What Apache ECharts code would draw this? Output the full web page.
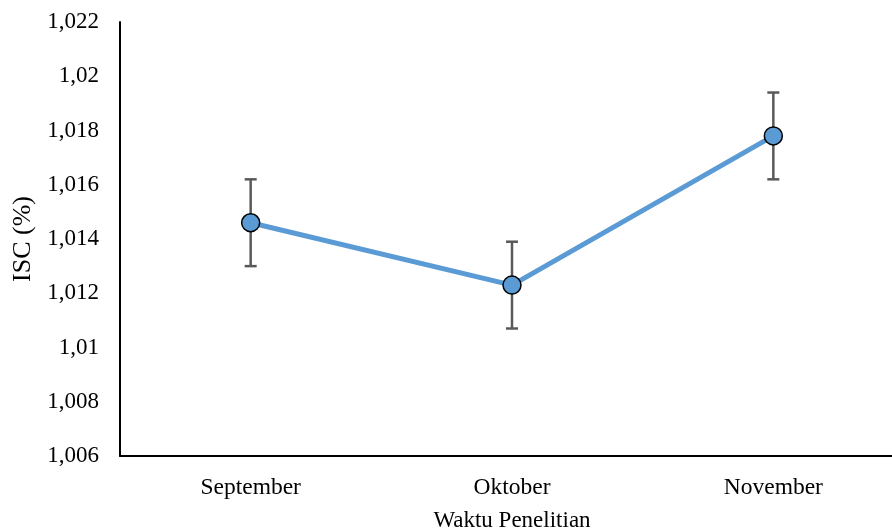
<!DOCTYPE html>
<html>
<head>
<meta charset="utf-8">
<script src="https://cdn.jsdelivr.net/npm/echarts@6/dist/echarts.min.js"></script>
<style>
  html, body { margin: 0; padding: 0; background: #fff; }
  #chart { width: 892px; height: 530px; }
</style>
</head>
<body>
<div id="chart"></div>
<script>
// Monthly ISC values with symmetric error (± half-width)
const months = ['September', 'Oktober', 'November'];
const iscValues = [1.0146, 1.0123, 1.0178];
const iscError = [0.0016, 0.0016, 0.0016];
const yTicks = { min: 1.006, max: 1.022, step: 0.002 };

const FONT = 'Liberation Serif, Times New Roman, serif';

const errorData = months.map((m, i) => [i, iscValues[i] - iscError[i], iscValues[i] + iscError[i]]);

const chart = echarts.init(document.getElementById('chart'), null, { renderer: 'canvas' });

chart.setOption({
  animation: false,
  backgroundColor: '#ffffff',
  grid: { left: 120, right: -12, top: 22, bottom: 74, containLabel: false, outerBoundsMode: 'none' },
  xAxis: {
    type: 'category',
    data: months,
    boundaryGap: true,
    name: 'Waktu Penelitian',
    nameLocation: 'middle',
    nameGap: 53,
    nameTextStyle: { fontFamily: FONT, fontSize: 23, color: '#000' },
    axisLine: { lineStyle: { color: '#000', width: 2 } },
    axisTick: { show: false },
    axisLabel: { fontFamily: FONT, fontSize: 23.5, color: '#000', margin: 20 },
    splitLine: { show: false }
  },
  yAxis: {
    type: 'value',
    min: yTicks.min,
    max: yTicks.max,
    interval: yTicks.step,
    name: 'ISC (%)',
    nameLocation: 'middle',
    nameGap: 84,
    nameRotate: 90,
    nameTextStyle: { fontFamily: FONT, fontSize: 26, color: '#000' },
    axisLine: { show: true, lineStyle: { color: '#000', width: 2 } },
    axisTick: { show: false },
    splitLine: { show: false },
    axisLabel: {
      fontFamily: FONT, fontSize: 23, color: '#000', margin: 21,
      formatter: v => String(Number(v.toFixed(3))).replace('.', ',')
    }
  },
  series: [
    {
      type: 'custom',
      name: 'error',
      z: 1,
      data: errorData,
      renderItem: function (params, api) {
        const x = api.value(0);
        const lo = api.coord([x, api.value(1)]);
        const hi = api.coord([x, api.value(2)]);
        const cap = 6;
        const style = { stroke: '#595959', lineWidth: 2.5 };
        return {
          type: 'group',
          children: [
            { type: 'line', shape: { x1: hi[0], y1: hi[1], x2: lo[0], y2: lo[1] }, style: style },
            { type: 'line', shape: { x1: hi[0] - cap, y1: hi[1], x2: hi[0] + cap, y2: hi[1] }, style: style },
            { type: 'line', shape: { x1: lo[0] - cap, y1: lo[1], x2: lo[0] + cap, y2: lo[1] }, style: style }
          ]
        };
      }
    },
    {
      type: 'line',
      name: 'ISC',
      z: 3,
      data: iscValues,
      symbol: 'circle',
      symbolSize: 18,
      lineStyle: { color: '#5B9BD5', width: 5 },
      itemStyle: { color: '#5B9BD5', borderColor: '#000', borderWidth: 1.5 }
    }
  ]
});
</script>
</body>
</html>
